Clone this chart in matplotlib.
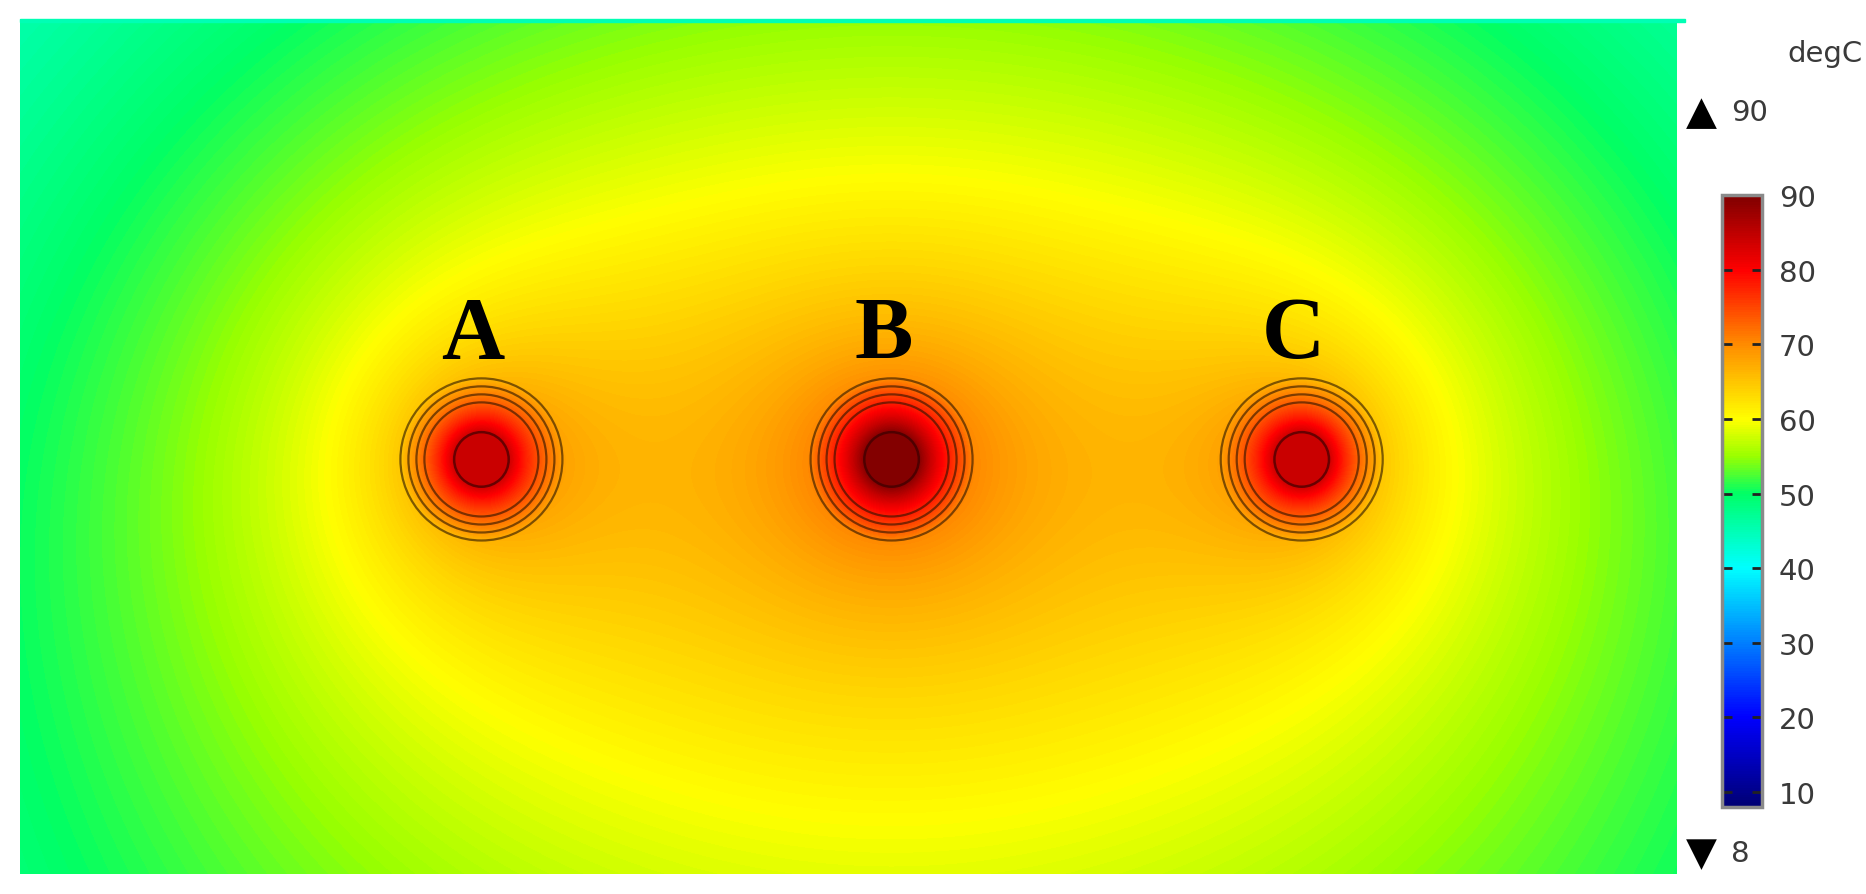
import matplotlib
matplotlib.use("Agg")
import matplotlib.pyplot as plt
import numpy as np
from matplotlib.colors import LinearSegmentedColormap, Normalize
from matplotlib.cm import ScalarMappable
from matplotlib.patches import Circle, Rectangle

# cable layout (mm) and temperatures
labels       = ["A", "B", "C"]
cable_x      = [-200.0, 0.0, 200.0]
cable_y      = [0.0, 0.0, 0.0]
cond_temp    = [84.0, 89.5, 84.0]          # conductor temperature, degC
ring_radii   = [27.8, 31.7, 35.6, 39.5]    # sheath / insulation layers
cond_radius  = 13.3
cable_radius = 39.5

# model domain (mm)
x_lim = [-425.0, 383.0]
y_lim = [-202.0, 214.6]

# soil background, fitted to readings along the cable row and the centre column
t_ref   = 60.0      # degC at geometric-mean distance rho_ref
rho_ref = 214.5     # mm
t_slope = 16.5      # degC per ln(distance)
t_vgrad = 0.0076    # degC per mm, cooler toward the surface

# colour scale
t_min, t_max = 8, 90
cbar_ticks = [10, 20, 30, 40, 50, 60, 70, 80, 90]
cmap_vals = [8, 10, 20, 30, 40, 46, 50, 55, 60, 70, 80, 90]
cmap_cols = [(0, 0, 0.45), (0, 0, 0.55), (0, 0, 1), (0, 0.5, 1), (0, 1, 1),
             (0, 1, 0.65), (0, 1, 0.4), (0.6, 1, 0), (1, 1, 0), (1, 0.55, 0),
             (1, 0, 0), (0.5, 0, 0)]

cmap = LinearSegmentedColormap.from_list(
    "rainbow_comsol",
    [((v - t_min) / (t_max - t_min), c) for v, c in zip(cmap_vals, cmap_cols)])
norm = Normalize(t_min, t_max)

# temperature field
xs = np.linspace(x_lim[0], x_lim[1], 1657)
ys = np.linspace(y_lim[0], y_lim[1], 855)
X, Y = np.meshgrid(xs, ys)

dist = []
logr = np.zeros_like(X)
for cx, cy in zip(cable_x, cable_y):
    r = np.hypot(X - cx, Y - cy)
    dist.append(r)
    logr += np.log(np.maximum(r, cable_radius))
logr /= len(cable_x)
T = t_ref - t_slope * (logr - np.log(rho_ref)) - t_vgrad * Y

for r, tc in zip(dist, cond_temp):
    frac = np.log(cable_radius / np.maximum(r, 1e-6)) / np.log(cable_radius / cond_radius)
    frac = np.clip(frac, 0, 1) ** 0.8
    T = np.where(r < cable_radius, T + (tc - T) * frac, T)

W, H = 1866, 895
fig = plt.figure(figsize=(W / 100, H / 100), dpi=100)
ax = fig.add_axes([20 / W, 20 / H, 1657 / W, 855 / H])
ax.imshow(T, extent=[x_lim[0], x_lim[1], y_lim[0], y_lim[1]], origin="lower",
          cmap=cmap, norm=norm, aspect="auto", interpolation="bilinear")
ax.set_xlim(x_lim)
ax.set_ylim(y_lim)
ax.axis("off")

# thin surface strip along the top
ax.add_patch(Rectangle((x_lim[0], y_lim[1] - 1.6), x_lim[1] - x_lim[0] + 4, 1.6,
                       color="#00ffb4", clip_on=False, zorder=3))

for cx, cy, lab in zip(cable_x, cable_y, labels):
    for rad in ring_radii:
        ax.add_patch(Circle((cx, cy), rad, fill=False, ec=(0.15, 0.07, 0, 0.6), lw=1.6))
    ax.add_patch(Circle((cx, cy), cond_radius, fill=False, ec=(0.2, 0, 0, 0.65), lw=1.8))
    ax.text(cx - 4, cy + 50, lab, fontsize=63, fontweight="bold",
            family="Liberation Serif", ha="center", va="baseline")

# colour bar
cax = fig.add_axes([1722 / W, (H - 808) / H, 40 / W, 612 / H])
cb = fig.colorbar(ScalarMappable(norm=norm, cmap=cmap), cax=cax, ticks=cbar_ticks)
cb.outline.set_edgecolor("#8a8a8a")
cb.outline.set_linewidth(2.5)
cax.tick_params(direction="in", length=7, width=2, color="#222222", left=True,
                right=True, labelsize=21, labelcolor="#3a3a3a", pad=12)

fig.text(1825 / W, 1 - 54 / H, "degC", ha="center", va="center", fontsize=21, color="#3a3a3a")
fig.text(1686 / W, 1 - 113 / H, "\u25B2", ha="left", va="center", fontsize=29)
fig.text(1731 / W, 1 - 113 / H, str(t_max), ha="left", va="center", fontsize=21, color="#3a3a3a")
fig.text(1686 / W, 1 - 854 / H, "\u25BC", ha="left", va="center", fontsize=29)
fig.text(1731 / W, 1 - 854 / H, str(t_min), ha="left", va="center", fontsize=21, color="#3a3a3a")

fig.savefig("out.png", dpi=100)
